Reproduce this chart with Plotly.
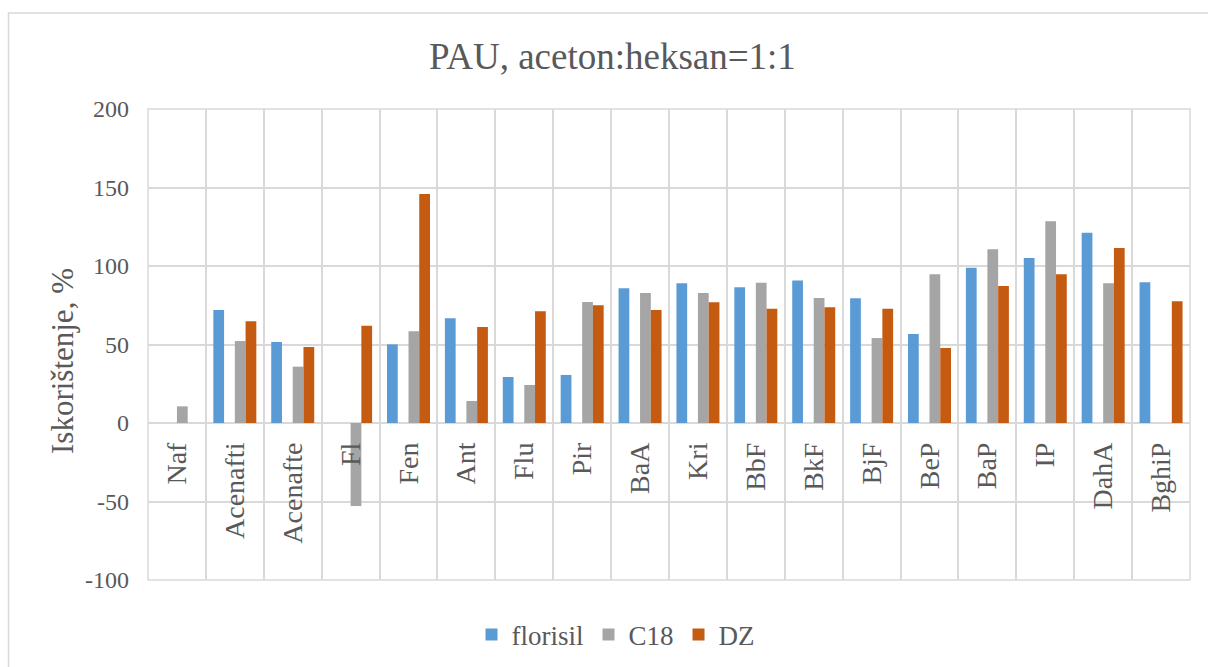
import plotly.graph_objects as go

# PAH compounds and recoveries (%) for three SPE sorbents
categories = ["Naf", "Acenafti", "Acenafte", "Fl", "Fen", "Ant", "Flu", "Pir", "BaA",
              "Kri", "BbF", "BkF", "BjF", "BeP", "BaP", "IP", "DahA", "BghiP"]
florisil = [None, 72, 51.6, None, 50.1, 66.7, 29.3, 30.6, 85.8,
            89, 86.4, 90.7, 79.4, 56.7, 98.9, 105.1, 121.2, 89.6]
c18 = [10.6, 52.2, 35.9, -52.9, 58.4, 14, 24.2, 77.1, 82.8,
       82.8, 89.4, 79.6, 54.1, 94.7, 110.6, 128.5, 89, None]
dz = [None, 64.8, 48.4, 62, 145.9, 61.1, 71.1, 75, 72,
      76.9, 72.8, 73.7, 72.8, 47.8, 87.3, 94.7, 111.5, 77.5]
y_ticks = [-100, -50, 0, 50, 100, 150, 200]
y_tick_text = ["-100", "-50", "0", "50", "100", "150", "200"]

W, H = 1208, 667
L, R, T, B = 148, 18, 109, 87
pw, ph = W - L - R, H - T - B

FONT = "Liberation Serif"
TXT = "#595959"
GRID = "#D9D9D9"

def px_x(p):
    return (p - L) / pw

def px_y(p):
    return (H - B - p) / ph

slot = 0.1857
series = [
    ("florisil", florisil, "#5B9BD5", -2 * slot),
    ("C18", c18, "#A5A5A5", 0.0),
    ("DZ", dz, "#C55A11", slot),
]

fig = go.Figure()
for name, vals, color, off in series:
    fig.add_trace(go.Bar(
        x=categories, y=vals, name=name,
        marker=dict(color=color, line=dict(width=0)),
        width=slot, offset=off,
    ))

fig.update_layout(
    width=W, height=H,
    margin=dict(l=L, r=R, t=T, b=B, autoexpand=False),
    paper_bgcolor="white", plot_bgcolor="white",
    barmode="overlay",
    font=dict(family=FONT, color=TXT),
    title=dict(text="PAU, aceton:heksan=1:1", x=0.507, xanchor="center",
               y=1 - 56 / H, yanchor="middle", yref="container",
               font=dict(size=37, color=TXT, family=FONT)),
    showlegend=True,
    legend=dict(orientation="h", x=px_x(616), xanchor="center",
                y=px_y(635), yanchor="middle",
                font=dict(size=27, color=TXT, family=FONT),
                itemwidth=30, traceorder="normal", bgcolor="rgba(0,0,0,0)"),
    xaxis=dict(
        type="category", tickson="boundaries", showgrid=True,
        gridcolor=GRID, gridwidth=1.5, showline=False, zeroline=False,
        ticks="", tickangle=-90, anchor="free", position=px_y(423),
        tickfont=dict(size=28, color=TXT, family=FONT),
        ticklabelstandoff=13, range=[-0.5, len(categories) - 0.5],
    ),
    yaxis=dict(
        range=[-100, 200], tickvals=y_ticks, ticktext=y_tick_text, showgrid=True,
        gridcolor=GRID, gridwidth=1.5, zeroline=True, zerolinecolor=GRID,
        zerolinewidth=1.5, showline=False, ticks="",
        tickfont=dict(size=24, color=TXT, family=FONT),
        ticklabelstandoff=18,
    ),
    annotations=[dict(
        text="Iskorištenje, %", textangle=-90, showarrow=False,
        xref="paper", yref="paper", x=px_x(62), y=px_y(361),
        xanchor="center", yanchor="middle",
        font=dict(size=31, color=TXT, family=FONT),
    )],
    shapes=[
        # outer chart frame
        dict(type="rect", xref="paper", yref="paper",
             x0=px_x(8.5), x1=px_x(1230), y0=px_y(690), y1=px_y(13),
             line=dict(color=GRID, width=1.5), fillcolor="rgba(0,0,0,0)",
             layer="below"),
        # plot area edges
        dict(type="rect", xref="paper", yref="paper", x0=0, x1=1, y0=0, y1=1,
             line=dict(color=GRID, width=1.5), layer="below"),
    ],
)

fig.write_html("out.html")
